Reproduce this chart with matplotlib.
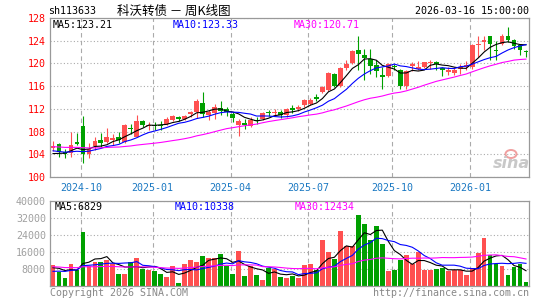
import numpy as np
import matplotlib
matplotlib.use("Agg")
import matplotlib.pyplot as plt
from matplotlib.patches import Ellipse

# weekly K-line of sh113633 (80 weeks)
opens = [105.1, 105.75, 104.4, 104.2, 106.15, 108.9, 104.0, 105.4, 106.5, 106.1,
         106.5, 107.1, 106.2, 108.7, 107.1, 109.8, 108.9, 109.2, 109.2, 109.3,
         110.1, 110.55, 110.3, 111.1, 111.4, 113.1, 111.0, 111.3, 112.2, 111.9,
         111.1, 109.1, 109.5, 108.9, 110.1, 110.25, 111.45, 111.3, 111.45, 111.0,
         112.15, 111.9, 112.75, 112.9, 114.1, 115.0, 115.4, 118.2, 116.0, 119.2,
         120.05, 122.3, 121.4, 120.8, 119.65, 118.05, 117.8, 119.55, 118.8, 116.0,
         119.6, 119.1, 119.35, 120.0, 120.2, 119.2, 118.5, 118.4, 119.05, 119.35,
         119.35, 123.3, 123.8, 124.75, 122.4, 123.45, 124.9, 124.15, 123.2, 122.1]
closes = [105.4, 104.4, 104.1, 105.7, 105.8, 104.1, 105.0, 106.3, 106.0, 107.0,
          106.9, 106.5, 109.1, 108.5, 109.8, 109.1, 109.2, 108.9, 108.95, 110.2,
          110.7, 110.2, 110.8, 111.45, 113.4, 111.1, 111.45, 112.3, 111.7, 111.4,
          110.4, 109.8, 109.2, 110.1, 109.9, 111.25, 111.3, 111.45, 110.85, 111.9,
          111.85, 112.4, 113.5, 113.6, 113.8, 115.8, 118.3, 116.0, 119.2, 119.95,
          122.15, 121.6, 120.95, 119.5, 118.65, 117.6, 119.95, 119.35, 116.0, 118.7,
          119.9, 119.35, 120.2, 120.2, 119.9, 118.9, 118.85, 118.9, 119.35, 119.65,
          123.3, 123.5, 124.2, 123.5, 122.2, 124.9, 124.2, 123.0, 122.3, 122.0]
highs = [106.3, 105.9, 105.0, 108.0, 107.7, 110.8, 105.9, 107.1, 107.7, 108.6,
         107.6, 108.0, 109.25, 109.4, 111.0, 110.1, 109.6, 109.7, 109.8, 110.55,
         110.9, 110.7, 111.0, 111.7, 113.7, 114.9, 111.85, 112.8, 113.4, 112.3,
         111.45, 110.3, 110.3, 110.5, 110.5, 111.4, 111.85, 112.0, 111.75, 112.15,
         112.6, 112.6, 113.8, 114.0, 114.6, 116.1, 118.5, 118.4, 119.3, 120.6,
         122.4, 124.75, 122.6, 122.6, 120.6, 119.4, 120.1, 119.95, 119.0, 118.8,
         120.2, 120.5, 120.3, 120.6, 120.5, 119.35, 119.35, 119.35, 119.9, 120.35,
         123.5, 124.9, 124.9, 124.9, 124.0, 125.2, 126.4, 124.35, 123.5, 122.3]
lows = [104.5, 103.5, 103.3, 103.5, 105.6, 102.5, 103.4, 104.7, 105.3, 105.9,
        105.6, 105.9, 105.9, 107.6, 107.0, 108.8, 108.2, 108.2, 108.3, 109.1,
        109.85, 109.85, 110.05, 110.6, 110.4, 110.5, 110.1, 110.3, 111.0, 110.8,
        109.7, 107.3, 108.5, 108.8, 109.3, 110.0, 110.7, 110.85, 110.4, 110.55,
        111.3, 111.6, 112.4, 112.6, 113.3, 114.8, 115.2, 115.8, 115.9, 118.9,
        119.9, 118.8, 117.0, 118.2, 117.6, 115.5, 117.6, 118.8, 115.5, 115.5,
        118.6, 118.9, 119.2, 119.0, 118.9, 117.7, 118.0, 117.9, 118.2, 118.8,
        119.0, 121.1, 122.3, 120.6, 120.6, 123.3, 123.75, 122.6, 121.4, 121.1]
volumes = [9725, 6430, 3600, 10200, 7370, 25250, 9570, 11140, 11140, 12080,
           10510, 5490, 5490, 11140, 13020, 7840, 7370, 6900, 5800, 4080,
           9250, 1250, 10200, 12080, 11140, 13960, 13020, 13020, 14900, 9250,
           5490, 16310, 4550, 9250, 5020, 2670, 8310, 7840, 4080, 3610,
           4550, 3610, 9725, 10200, 7370, 21650, 15840, 12550, 25730, 18670,
           18670, 33250, 29020, 21490, 28080, 19610, 6900, 7370, 12080, 14430,
           10200, 15840, 7370, 7370, 8160, 8310, 6900, 7370, 7370, 5020,
           8310, 15370, 22430, 14430, 10200, 9600, 5100, 8800, 10400, 2000]

# weeks before the first candle, estimated so the averages start where the chart shows them
earlierCloses = [105.9, 106.2, 105.8, 105.5, 105.9, 106.3, 106.0, 105.6, 105.2, 105.4,
                 105.8, 106.1, 105.7, 105.3, 105.6, 105.9, 105.5, 105.2, 105.4, 105.7,
                 105.6, 105.3, 105.0, 104.9, 104.7, 104.2, 103.9, 103.6, 103.5]
earlierVolumes = [9800, 11200, 10400, 8900, 12100, 9600, 10800, 9300, 8700, 11500,
                  10200, 9100, 10900, 9700, 8800, 10600, 9900, 11300, 9400, 10000,
                  5600, 4800, 5300, 4900, 5400, 7900, 8800, 8100, 8500]

monthLabels = ['2024-10', '2025-01', '2025-04', '2025-07', '2025-10', '2026-01']
monthIndex = [5, 17, 30, 43, 57, 70]
priceTicks = [100, 104, 108, 112, 116, 120, 124, 128]
volumeTicks = [8000, 16000, 24000, 32000, 40000]
maWindows = [5, 10, 30]
priceMaText = ['MA5:123.21', 'MA10:123.33', 'MA30:120.71']
volumeMaText = ['MA5:6829', 'MA10:10338', 'MA30:12434']

RED = '#ff5050'
GREEN = '#00a000'
MA_COLORS = ['#000000', '#0000ff', '#ff00ff']
GRID = '#aaaaaa'
MONO = 'DejaVu Sans Mono'
FS = 7.2

plt.rcParams['font.family'] = [MONO]

W, H = 545, 300


def box(left, top, right, bottom):
    return [left / W, 1 - bottom / H, (right - left) / W, (bottom - top) / H]


def movingAverage(history, values, window):
    full = np.array(list(history) + list(values), dtype=float)
    ma = np.convolve(full, np.ones(window) / window, mode='valid')
    return ma[-len(values):]


def styleAxes(ax):
    for s in ax.spines.values():
        s.set_color('#999999')
        s.set_linewidth(0.9)
    ax.tick_params(length=0, labelsize=FS)
    ax.set_xlim(-0.5, len(closes) - 0.5)
    ax.set_xticks([i - 0.35 for i in monthIndex])
    ax.grid(axis='x', color=GRID, lw=0.8, ls=(0, (4, 3)))
    ax.grid(axis='y', color=GRID, lw=0.8, ls=(0, (1, 2)))
    ax.set_axisbelow(True)


fig = plt.figure(figsize=(W / 100, H / 100), dpi=100)
axPrice = fig.add_axes(box(50, 18, 529, 177))
axVol = fig.add_axes(box(50, 201, 529, 286))

x = np.arange(len(closes))
o = np.array(opens)
c = np.array(closes)
colors = np.where(c >= o, RED, GREEN)

# candles
styleAxes(axPrice)
axPrice.vlines(x, lows, highs, colors=colors, lw=0.8)
axPrice.bar(x, np.maximum(np.abs(c - o), 0.18), bottom=np.minimum(o, c),
            width=0.8, color=colors, linewidth=0)
for w, col in zip(maWindows, MA_COLORS):
    axPrice.plot(x, movingAverage(earlierCloses, closes, w), color=col, lw=0.8)
axPrice.set_ylim(100, 128)
axPrice.set_yticks(priceTicks)
axPrice.set_yticklabels([str(t) for t in priceTicks], color='#ff0000')
axPrice.set_xticklabels(monthLabels, color='#1a78c2')
axPrice.tick_params(axis='x', pad=4)
axPrice.tick_params(axis='y', pad=3)

# volume
styleAxes(axVol)
axVol.bar(x, volumes, width=0.8, color=colors, linewidth=0)
for w, col in zip(maWindows, MA_COLORS):
    axVol.plot(x, movingAverage(earlierVolumes, volumes, w), color=col, lw=0.8)
axVol.set_ylim(0, 40000)
axVol.set_yticks(volumeTicks)
axVol.set_yticklabels([str(t) for t in volumeTicks], color='#a0a0a0')
axVol.set_xticklabels([])
axVol.tick_params(axis='y', pad=3)


def px(xp, yp):
    return xp / W, 1 - yp / H


# header
fig.text(*px(48, 11), 'sh113633', fontsize=FS, va='center', ha='left', color='black')
fig.text(*px(117, 11), '科沃转债 － 周K线图', fontsize=9, va='center', ha='left',
         color='black', family=['Noto Sans CJK SC', 'DejaVu Sans'])
fig.text(*px(529, 11), '2026-03-16 15:00:00', fontsize=FS, va='center', ha='right', color='black')

# legends inside the panels
for xp, txt, col in zip([53, 173, 294], priceMaText, MA_COLORS):
    fig.text(*px(xp, 25), txt, fontsize=FS, va='center', ha='left', color=col)
for xp, txt, col in zip([55, 175, 295], volumeMaText, MA_COLORS):
    fig.text(*px(xp, 207), txt, fontsize=FS, va='center', ha='left', color=col)

# footer
fig.text(*px(50, 293), 'Copyright 2026 SINA.COM', fontsize=FS, va='center', ha='left', color='#888888')
fig.text(*px(529, 293), 'http://finance.sina.com.cn', fontsize=FS, va='center', ha='right', color='#888888')

# sina watermark
fig.text(*px(511, 164), 'sina', fontsize=11.5, va='center', ha='center', color='#c8c8c8',
         style='italic', weight='bold', family='DejaVu Sans')
fig.patches.append(Ellipse(px(511, 154), 11 / W, 8 / H, transform=fig.transFigure,
                           fill=False, edgecolor='#f0a0a0', lw=1.4))

fig.savefig('out.png', dpi=100)
